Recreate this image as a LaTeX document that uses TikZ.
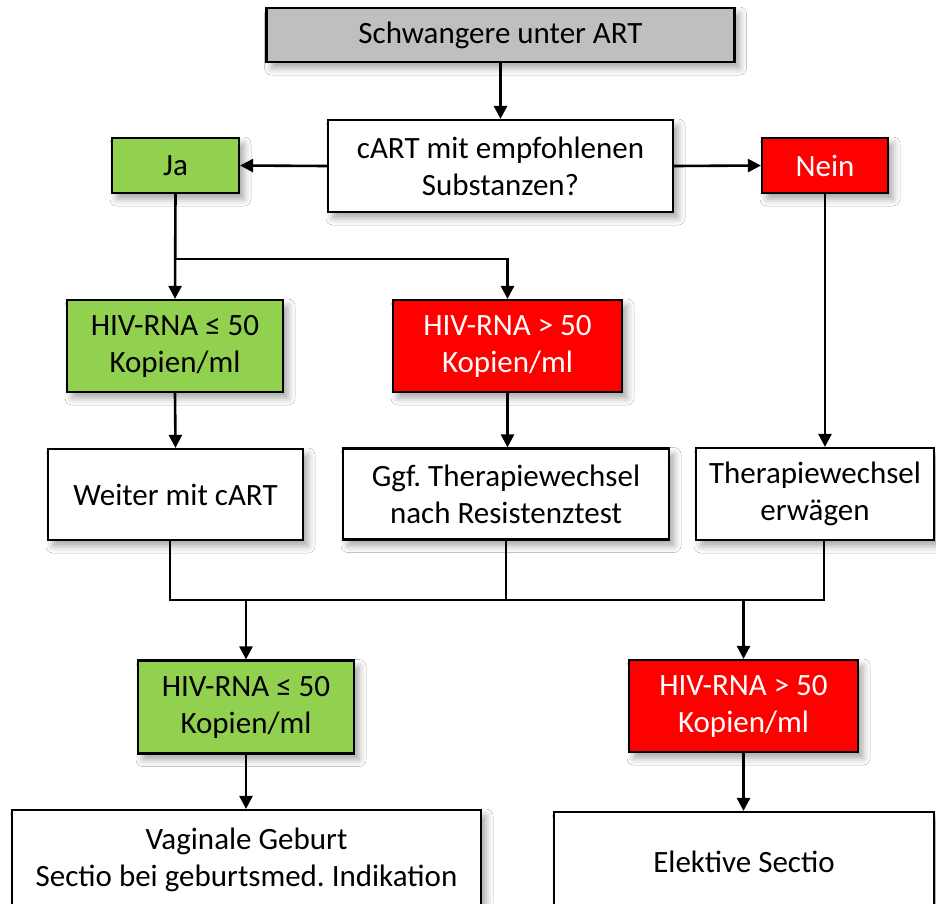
\documentclass[tikz,border=0pt]{standalone}
\usepackage{fontspec}
\setmainfont{Carlito}
\usetikzlibrary{arrows.meta,calc,shadows.blur}
\definecolor{boxgray}{RGB}{191,191,191}
\definecolor{boxgreen}{RGB}{146,208,80}
\definecolor{boxred}{RGB}{255,0,0}
\frenchspacing
\begin{document}
\begin{tikzpicture}[x=1pt,y=-1pt,
  box/.style={draw=black, line width=2.2pt, fill=white, inner sep=0pt, align=center,
    font=\fontsize{31}{37}\selectfont,
    blur shadow={shadow xshift=5pt, shadow yshift=-6pt, shadow blur radius=7pt, shadow opacity=35}},
  graybox/.style={box, fill=boxgray},
  greenbox/.style={box, fill=boxgreen},
  redbox/.style={box, fill=boxred, text=white},
  conn/.style={line width=2.6pt, draw=black},
  arr/.style={conn, -{Triangle[length=13pt,width=13pt]}}]
\useasboundingbox (0,0) rectangle (936,903);
\clip (0,0) rectangle (936,903);
\fill[white] (0,0) rectangle (936,903);

\node[graybox, minimum width=468pt, minimum height=54pt] (top) at (500.5,35) {Schwangere unter ART};
\node[box, minimum width=345pt, minimum height=92pt] (cart) at (500.5,166) {cART mit empfohlenen\\Substanzen?};
\node[greenbox, minimum width=127pt, minimum height=55pt] (ja) at (175.5,165.5) {Ja};
\node[redbox, minimum width=126pt, minimum height=55pt] (nein) at (825,165.5) {Nein};
\node[greenbox, minimum width=216pt, minimum height=92pt] (l1) at (175,346) {HIV-RNA ≤ 50\\Kopien/ml};
\node[redbox, minimum width=229pt, minimum height=92pt] (m1) at (507.5,346) {HIV-RNA > 50\\Kopien/ml};
\node[box, minimum width=255pt, minimum height=91pt] (weiter) at (175.5,494.5) {Weiter mit cART};
\node[box, minimum width=326pt, minimum height=91pt] (ggf) at (506,494) {Ggf. Therapiewechsel\\nach Resistenztest};
\node[box, minimum width=238pt, minimum height=92pt] (thw) at (815,494) {Therapiewechsel\\erwägen};
\node[greenbox, minimum width=216pt, minimum height=93pt] (l2) at (246,707) {HIV-RNA ≤ 50\\Kopien/ml};
\node[redbox, minimum width=229pt, minimum height=92pt] (r2) at (743.5,706) {HIV-RNA > 50\\Kopien/ml};
\node[box, minimum width=469pt, minimum height=100pt] (vag) at (246.5,860) {Vaginale Geburt\\Sectio bei geburtsmed. Indikation};
\node[box, minimum width=380pt, minimum height=100pt] (elek) at (744,862) {Elektive Sectio};

\coordinate (jb) at (176,259);
\coordinate (busL) at (170,600);
\coordinate (busR) at (824,600);

\draw[arr] (top) -- (cart);
\draw[arr] (cart.west) -- (ja.east);
\draw[arr] (cart.east) -- (nein.west);
\draw[arr] (ja.south) -- (l1.north);
\draw[arr] (jb) -| (m1.north);
\draw[arr] (nein.south) -- (nein.south |- thw.north);
\draw[arr] (l1.south) -- (weiter.north);
\draw[arr] (m1.south) -- (m1.south |- ggf.north);
\draw[conn] (weiter.south -| busL) -- (busL) -- (busR) -- (thw.south -| busR);
\draw[conn] (ggf.south) -- (ggf.south |- busL);
\draw[arr] (l2.north |- busL) -- (l2.north);
\draw[arr] (r2.north |- busL) -- (r2.north);
\draw[arr] (l2.south) -- (l2.south |- vag.north);
\draw[arr] (r2.south) -- (r2.south |- elek.north);
\end{tikzpicture}
\end{document}
